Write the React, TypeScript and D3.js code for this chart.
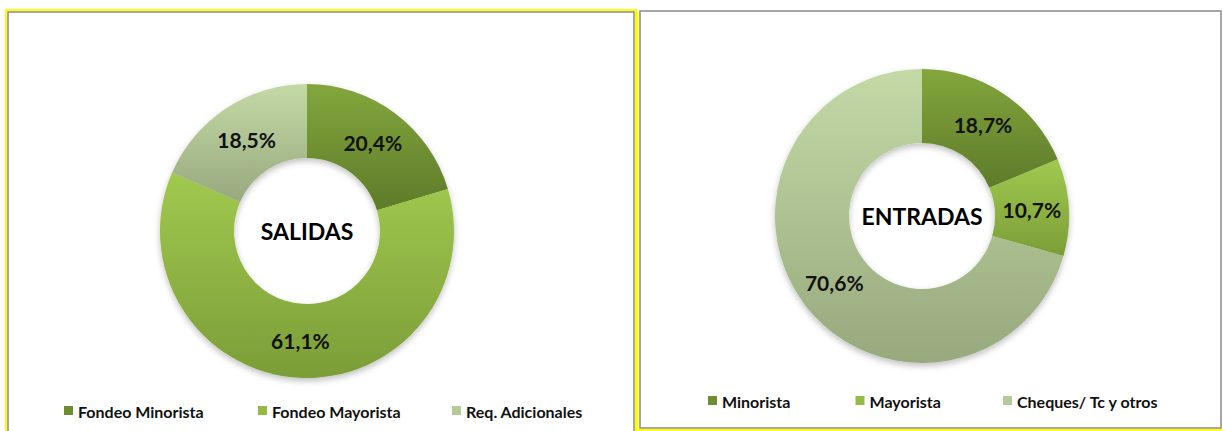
import React from "react";
import * as d3 from "d3";

const salidasLabels = ["Fondeo Minorista", "Fondeo Mayorista", "Req. Adicionales"];
const salidasValues = [20.4, 61.1, 18.5];
const entradasLabels = ["Minorista", "Mayorista", "Cheques/ Tc y otros"];
const entradasValues = [18.7, 10.7, 70.6];

const gradTop = ["#83a63c", "#a1c94f", "#c5d9a7"];
const gradBottom = ["#5e7b2a", "#7b9d37", "#97a97d"];
const legendColors = ["#6c8e31", "#93bb46", "#b6ca99"];

const FONT = "Lato, 'Open Sans', sans-serif";

type DonutProps = {
  id: string;
  cx: number;
  cy: number;
  values: number[];
  labels: string[];
  title: string;
  legendX0: number;
  legendStep: number;
  legendY: number;
};

function Donut({ id, cx, cy, values, labels, title, legendX0, legendStep, legendY }: DonutProps) {
  const pie = d3.pie<number>().sort(null).value((d) => d);
  const arcs = pie(values);
  const outer = 147;
  const inner = 73;
  const arc = d3.arc<d3.PieArcDatum<number>>().innerRadius(inner).outerRadius(outer);
  const labelArc = d3.arc<d3.PieArcDatum<number>>().innerRadius(110).outerRadius(110);
  const fmt = (v: number) => v.toFixed(1).replace(".", ",") + "%";
  const lx = d3.scaleLinear().domain([0, 1]).range([legendX0, legendX0 + legendStep]);
  return (
    <g>
      <defs>
        {arcs.map((a, i) => (
          <linearGradient key={i} id={`${id}-g${i}`} x1="0" y1="0" x2="0" y2="1">
            <stop offset="0" stopColor={gradTop[i]} />
            <stop offset="1" stopColor={gradBottom[i]} />
          </linearGradient>
        ))}
        <filter id={`${id}-sh`} x="-20%" y="-20%" width="140%" height="150%">
          <feDropShadow dx="0" dy="3" stdDeviation="3" floodColor="#000" floodOpacity="0.25" />
        </filter>
      </defs>
      <g transform={`translate(${cx},${cy})`}>
        <g filter={`url(#${id}-sh)`}>
          {arcs.map((a, i) => (
            <path key={i} d={arc(a) || ""} fill={`url(#${id}-g${i})`} />
          ))}
        </g>
        {arcs.map((a, i) => {
          const [x, y] = labelArc.centroid(a);
          return (
            <text
              key={i}
              x={x}
              y={y}
              textAnchor="middle"
              dominantBaseline="central"
              fontFamily={FONT}
              fontWeight="bold"
              fontSize={21}
              fill="#111"
            >
              {fmt(a.data)}
            </text>
          );
        })}
        <text
          x={0}
          y={0}
          textAnchor="middle"
          dominantBaseline="central"
          fontFamily={FONT}
          fontWeight="bold"
          fontSize={23}
          fill="#000"
        >
          {title}
        </text>
      </g>
      {labels.map((l, i) => (
        <g key={l} transform={`translate(${lx(i)},${legendY})`}>
          <rect x={0} y={-5} width={9} height={9} fill={legendColors[i]} />
          <text x={14} y={0} dominantBaseline="central" fontFamily={FONT} fontSize={16} fontWeight="bold" fill="#111">
            {l}
          </text>
        </g>
      ))}
    </g>
  );
}

export default function App() {
  return (
    <svg
      width={1223}
      height={431}
      style={{ position: "absolute", left: 0, top: 0, background: "#fff" }}
    >
      <rect x={0} y={0} width={1223} height={431} fill="#fff" />
      {/* left panel */}
      <path d="M6,440 L6,10 L636,10 L636,440" fill="none" stroke="#ffff00" strokeWidth={2} />
      <rect x={8} y={12} width={626} height={440} fill="#fff" stroke="#8a8a8a" strokeWidth={1.5} />
      {/* right panel */}
      <path d="M637.5,12 L637.5,430 L1222,430" fill="none" stroke="#ffff00" strokeWidth={2} />
      <rect x={640} y={11} width={581} height={417} fill="#fff" stroke="#8a8a8a" strokeWidth={1.5} />
      <Donut
        id="sal"
        cx={307}
        cy={231}
        values={salidasValues}
        labels={salidasLabels}
        title="SALIDAS"
        legendX0={64}
        legendStep={194}
        legendY={411}
      />
      <Donut
        id="ent"
        cx={922}
        cy={216}
        values={entradasValues}
        labels={entradasLabels}
        title="ENTRADAS"
        legendX0={708}
        legendStep={147.5}
        legendY={401}
      />
    </svg>
  );
}
